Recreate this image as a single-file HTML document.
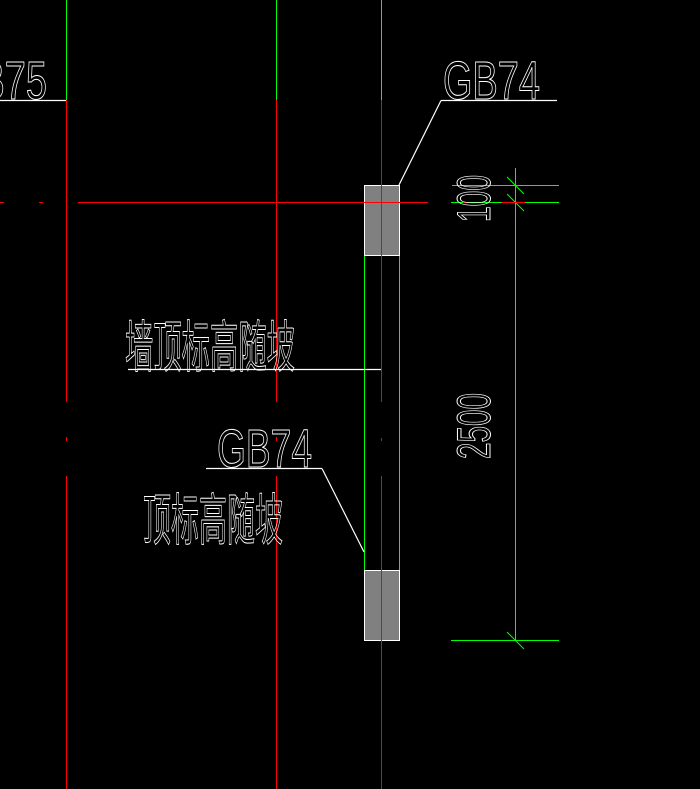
<!DOCTYPE html>
<html><head><meta charset="utf-8"><style>
html,body{margin:0;padding:0;background:#000;width:700px;height:789px;overflow:hidden}
svg{display:block}
text{fill:none;stroke:#fff;stroke-width:1;font-family:"Liberation Sans","Noto Sans CJK SC",sans-serif;font-weight:normal}
</style></head><body>
<svg width="700" height="789" viewBox="0 0 700 789" xmlns="http://www.w3.org/2000/svg">
<rect width="700" height="789" fill="#000"/>
<g stroke-width="1" fill="none">
<g stroke="#00ff00">
<line x1="66.5" y1="0" x2="66.5" y2="100"/>
<line x1="276.5" y1="0" x2="276.5" y2="100"/>
<line x1="381.5" y1="0" x2="381.5" y2="100"/>
</g>
<g stroke="#ff0000">
<line x1="66.5" y1="100" x2="66.5" y2="402"/><line x1="66.5" y1="437" x2="66.5" y2="441"/><line x1="66.5" y1="476" x2="66.5" y2="789"/>
<line x1="276.5" y1="100" x2="276.5" y2="402"/><line x1="276.5" y1="437" x2="276.5" y2="441"/><line x1="276.5" y1="476" x2="276.5" y2="789"/>
<line x1="0" y1="202.5" x2="4" y2="202.5"/><line x1="39" y1="202.5" x2="43" y2="202.5"/><line x1="78" y1="202.5" x2="428" y2="202.5"/>
</g>
<rect x="364.5" y="185.5" width="35" height="70" fill="#808080" stroke="#fff"/>
<rect x="364.5" y="570.5" width="35" height="70" fill="#808080" stroke="#fff"/>
<g stroke="#00ff00">
<line x1="364.5" y1="256" x2="364.5" y2="570"/>
<line x1="399.5" y1="256" x2="399.5" y2="570"/>
</g>
<g stroke="#ff0000">
<line x1="381.5" y1="100" x2="381.5" y2="402"/><line x1="381.5" y1="438" x2="381.5" y2="441"/><line x1="381.5" y1="476" x2="381.5" y2="789"/>
<line x1="364" y1="202.5" x2="400" y2="202.5"/>
</g>
<g stroke="#00ff00">
<line x1="515.5" y1="168" x2="515.5" y2="640"/>
<line x1="452" y1="185.5" x2="559" y2="185.5"/>
<line x1="451" y1="202.5" x2="559" y2="202.5"/>
<line x1="451" y1="640.5" x2="559" y2="640.5"/>
<line x1="507" y1="177" x2="524" y2="194"/>
<line x1="507" y1="194" x2="524" y2="211"/>
<line x1="507" y1="632" x2="524" y2="649"/>
</g>
<line x1="502" y1="202.5" x2="525" y2="202.5" stroke="#ff0000"/>
<line x1="463" y1="202.5" x2="467" y2="202.5" stroke="#ff0000"/>
<g stroke="#fff" stroke-width="1.2">
<line x1="0" y1="100.5" x2="66" y2="100.5"/>
<line x1="441" y1="100.5" x2="557" y2="100.5"/>
<line x1="441" y1="100.5" x2="399" y2="185"/>
<line x1="128" y1="369.5" x2="381" y2="369.5"/>
<line x1="206" y1="468.5" x2="322" y2="468.5"/>
<line x1="322" y1="468.5" x2="364" y2="552"/>
</g>
</g>
<text x="-50" y="99" font-size="54" textLength="97" lengthAdjust="spacingAndGlyphs">GB75</text>
<text x="443" y="99" font-size="54" textLength="97" lengthAdjust="spacingAndGlyphs">GB74</text>
<text x="217" y="467" font-size="54" textLength="95" lengthAdjust="spacingAndGlyphs">GB74</text>
<text x="125" y="367" font-size="56" textLength="170" lengthAdjust="spacingAndGlyphs">墙顶标高随坡</text>
<text x="143" y="540" font-size="56" textLength="140" lengthAdjust="spacingAndGlyphs">顶标高随坡</text>
<text transform="translate(490,459) rotate(-90)" font-size="47" textLength="66" lengthAdjust="spacingAndGlyphs">2500</text>
<text transform="translate(490,222) rotate(-90)" font-size="47" textLength="47" lengthAdjust="spacingAndGlyphs">100</text>
</svg>
</body></html>
